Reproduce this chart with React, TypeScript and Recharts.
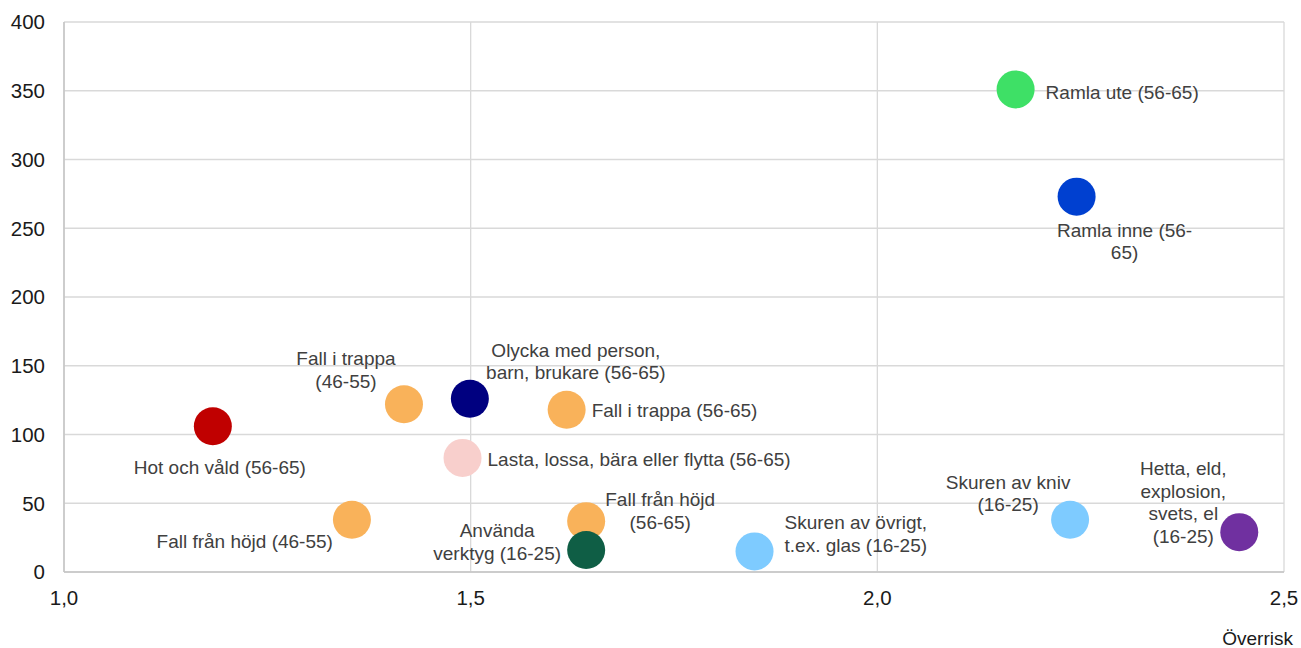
import React from "react";
import {
  ScatterChart,
  Scatter,
  XAxis,
  YAxis,
  CartesianGrid,
  Cell,
} from "recharts";

// Riskgrupper: överrisk (x) mot antal fall (y)
const names = [
  "Ramla ute (56-65)",
  "Ramla inne (56-65)",
  "Hot och våld (56-65)",
  "Fall i trappa (46-55)",
  "Olycka med person, barn, brukare (56-65)",
  "Fall i trappa (56-65)",
  "Lasta, lossa, bära eller flytta (56-65)",
  "Fall från höjd (46-55)",
  "Fall från höjd (56-65)",
  "Använda verktyg (16-25)",
  "Skuren av övrigt, t.ex. glas (16-25)",
  "Skuren av kniv (16-25)",
  "Hetta, eld, explosion, svets, el (16-25)",
];
const overrisk = [2.17, 2.245, 1.183, 1.418, 1.499, 1.618, 1.49, 1.354, 1.642, 1.642, 1.849, 2.237, 2.445];
const antal = [351, 273, 106, 122, 126, 118, 83, 38, 37, 16, 15, 38, 29];
const colors = [
  "#3ee066",
  "#0040d0",
  "#c00000",
  "#f9b25a",
  "#000080",
  "#f9b25a",
  "#f8cfcc",
  "#f9b25a",
  "#f9b25a",
  "#0f5e45",
  "#7ecbff",
  "#7ecbff",
  "#7030a0",
];

const xTicks = [1, 1.5, 2, 2.5];
const yTicks = [0, 50, 100, 150, 200, 250, 300, 350, 400];

// where each label sits relative to its dot, and how it wraps
const labelLayout: Record<
  string,
  { lines: string[]; dx: number; dy: number; anchor: "start" | "middle" | "end" }
> = {
  "Ramla ute (56-65)": { lines: ["Ramla ute (56-65)"], dx: 30, dy: 3, anchor: "start" },
  "Ramla inne (56-65)": { lines: ["Ramla inne (56-", "65)"], dx: 48, dy: 33, anchor: "middle" },
  "Hot och våld (56-65)": { lines: ["Hot och våld (56-65)"], dx: 7, dy: 41, anchor: "middle" },
  "Fall i trappa (46-55)": { lines: ["Fall i trappa", "(46-55)"], dx: -58, dy: -46, anchor: "middle" },
  "Olycka med person, barn, brukare (56-65)": {
    lines: ["Olycka med person,", "barn, brukare (56-65)"],
    dx: 106,
    dy: -49,
    anchor: "middle",
  },
  "Fall i trappa (56-65)": { lines: ["Fall i trappa (56-65)"], dx: 25, dy: 0, anchor: "start" },
  "Lasta, lossa, bära eller flytta (56-65)": {
    lines: ["Lasta, lossa, bära eller flytta (56-65)"],
    dx: 25,
    dy: 1,
    anchor: "start",
  },
  "Fall från höjd (46-55)": { lines: ["Fall från höjd (46-55)"], dx: -19, dy: 21, anchor: "end" },
  "Fall från höjd (56-65)": { lines: ["Fall från höjd", "(56-65)"], dx: 74, dy: -22, anchor: "middle" },
  "Använda verktyg (16-25)": { lines: ["Använda", "verktyg (16-25)"], dx: -89, dy: -20, anchor: "middle" },
  "Skuren av övrigt, t.ex. glas (16-25)": {
    lines: ["Skuren av övrigt,", "t.ex. glas (16-25)"],
    dx: 30,
    dy: -29,
    anchor: "start",
  },
  "Skuren av kniv (16-25)": { lines: ["Skuren av kniv", "(16-25)"], dx: -62, dy: -38, anchor: "middle" },
  "Hetta, eld, explosion, svets, el (16-25)": {
    lines: ["Hetta, eld,", "explosion,", "svets, el", "(16-25)"],
    dx: -56,
    dy: -64,
    anchor: "middle",
  },
};

const data = names.map((name, i) => ({ name, x: overrisk[i], y: antal[i] }));

const FONT = "'Liberation Sans', Arial, sans-serif";

const Dot = (props: any) => {
  const { cx, cy, fill, payload } = props;
  const lay = labelLayout[payload.name];
  return (
    <g>
      <circle cx={cx} cy={cy} r={19} fill={fill} />
      {lay && (
        <text
          x={cx + lay.dx}
          y={cy + lay.dy}
          textAnchor={lay.anchor}
          dominantBaseline="central"
          fontSize={19}
          fontFamily={FONT}
          fill="#404040"
        >
          {lay.lines.map((l, i) => (
            <tspan key={i} x={cx + lay.dx} dy={i === 0 ? 0 : 22.5}>
              {l}
            </tspan>
          ))}
        </text>
      )}
    </g>
  );
};

const AxisTitle = (props: any) => {
  const vb = props.viewBox;
  return (
    <text
      x={vb.x + vb.width + 9}
      y={vb.y + 73}
      textAnchor="end"
      fontSize={19}
      fontFamily={FONT}
      fill="#1a1a1a"
    >
      Överrisk
    </text>
  );
};

export default function App() {
  return (
    <div style={{ position: "absolute", left: 0, top: 0, background: "#fff" }}>
      <ScatterChart
        width={1301}
        height={648}
        margin={{ top: 22, right: 17, bottom: 0, left: 0 }}
      >
        <CartesianGrid stroke="#d9d9d9" strokeWidth={1.3} />
        <XAxis
          type="number"
          dataKey="x"
          domain={[1, 2.5]}
          ticks={xTicks}
          tickFormatter={(v: number) => v.toFixed(1).replace(".", ",")}
          height={76}
          tickSize={0}
          tickMargin={18}
          axisLine={{ stroke: "#c4c4c4", strokeWidth: 1.5 }}
          tick={{ fill: "#1a1a1a", fontSize: 20.5, fontFamily: FONT }}
          label={<AxisTitle />}
          allowDataOverflow
        />
        <YAxis
          type="number"
          dataKey="y"
          domain={[0, 400]}
          ticks={yTicks}
          width={64}
          tickSize={0}
          tickMargin={19}
          axisLine={{ stroke: "#c4c4c4", strokeWidth: 1.5 }}
          tick={{ fill: "#1a1a1a", fontSize: 20.5, fontFamily: FONT }}
          allowDataOverflow
        />
        <Scatter data={data} shape={<Dot />} isAnimationActive={false}>
          {data.map((d, i) => (
            <Cell key={d.name} fill={colors[i]} />
          ))}
        </Scatter>
      </ScatterChart>
    </div>
  );
}
